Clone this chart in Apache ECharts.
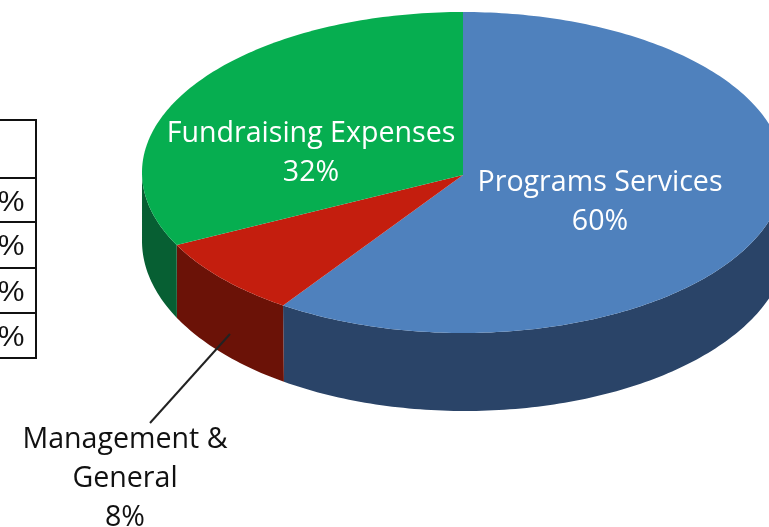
<!DOCTYPE html>
<html>
<head>
<meta charset="utf-8">
<style>
    html, body { margin: 0; padding: 0; background: #fff; }
    #main { width: 769px; height: 527px; }
</style>
</head>
<body>
<div id="main"></div>
<script src="https://cdn.jsdelivr.net/npm/echarts@6/dist/echarts.min.js"></script>
<script>
    // values
    var categories = ['Programs Services', 'Management &\nGeneral', 'Fundraising Expenses'];
    var shares = [60, 8, 32];
    var topColors = ['#4f81bd', '#c41e0e', '#06ae50'];
    var wallColors = ['#2a4468', '#6b1207', '#075f33'];
    var tableCells = ['%', '%', '%', '%'];

    var font = '"Open Sans", "Noto Sans", sans-serif';
    var topRim = {cx: 463, cy: 172.5, rx: 321, ry: 160.5};
    var bottomRim = {cx: 465, cy: 241, rx: 323, ry: 170};
    var apex = [463, 175];

    function rim(e, deg) {
        // small warp, the original pie was drawn with perspective
        var t = (deg - 2 * Math.sin(deg / 2 * Math.PI / 180)) * Math.PI / 180;
        return [e.cx + e.rx * Math.sin(t), e.cy - e.ry * Math.cos(t)];
    }

    function sliceRange(idx) {
        var total = shares.reduce(function (a, b) { return a + b; }, 0);
        var from = 0;
        for (var i = 0; i < idx; i++) from += shares[i];
        return [from / total * 360, (from + shares[idx]) / total * 360];
    }

    function arc(e, a, b) {
        var pts = [];
        for (var d = a; d < b; d += 1) pts.push(rim(e, d));
        pts.push(rim(e, b));
        return pts;
    }

    function renderWall(params, api) {
        var r = sliceRange(api.value(0));
        var a = Math.max(r[0], 90), b = Math.min(r[1], 272);
        if (a >= b) return null;
        return {
            type: 'polygon',
            shape: {points: arc(topRim, a, b).concat(arc(bottomRim, a, b).reverse())},
            style: {fill: wallColors[api.value(0)]}
        };
    }

    function renderTop(params, api) {
        var r = sliceRange(api.value(0));
        return {
            type: 'polygon',
            shape: {points: [apex].concat(arc(topRim, r[0], r[1]))},
            style: {fill: topColors[api.value(0)]}
        };
    }

    function label(i, x, y, color) {
        return {
            type: 'text', x: x, y: y, z: 20,
            style: {
                text: categories[i] + '\n' + shares[i] + '%',
                fill: color, font: '28.6px ' + font, lineHeight: 39,
                align: 'center', verticalAlign: 'top'
            }
        };
    }

    var tableLines = [178, 222, 268, 313];
    var graphics = [
        {type: 'rect', z: 10, shape: {x: -5, y: 120, width: 41, height: 238},
            style: {fill: 'none', stroke: '#111', lineWidth: 2}},
        {type: 'line', z: 21, shape: {x1: 230, y1: 334, x2: 150, y2: 423},
            style: {stroke: '#222', lineWidth: 2}},
        label(2, 311, 114, '#fff'),
        label(0, 600, 163, '#fff'),
        label(1, 125, 420, '#111')
    ];
    tableLines.forEach(function (y, i) {
        graphics.push({type: 'line', z: 10, shape: {x1: 0, y1: y, x2: 36, y2: y},
            style: {stroke: '#111', lineWidth: 2}});
        graphics.push({type: 'text', z: 10, x: 24.5, y: y + 25, style: {
            text: tableCells[i], fill: '#111', font: '30px "Liberation Sans", Arial, sans-serif',
            align: 'right', verticalAlign: 'middle'
        }});
    });

    var chart = echarts.init(document.getElementById('main'), null, {renderer: 'canvas'});
    var indexes = shares.map(function (v, i) { return [i]; });
    chart.setOption({
        backgroundColor: '#fff',
        animation: false,
        graphic: graphics,
        series: [
            {type: 'custom', coordinateSystem: 'none', silent: true, z: 1, data: indexes, renderItem: renderWall},
            {type: 'custom', coordinateSystem: 'none', silent: true, z: 2, data: indexes, renderItem: renderTop}
        ]
    });
</script>
</body>
</html>
